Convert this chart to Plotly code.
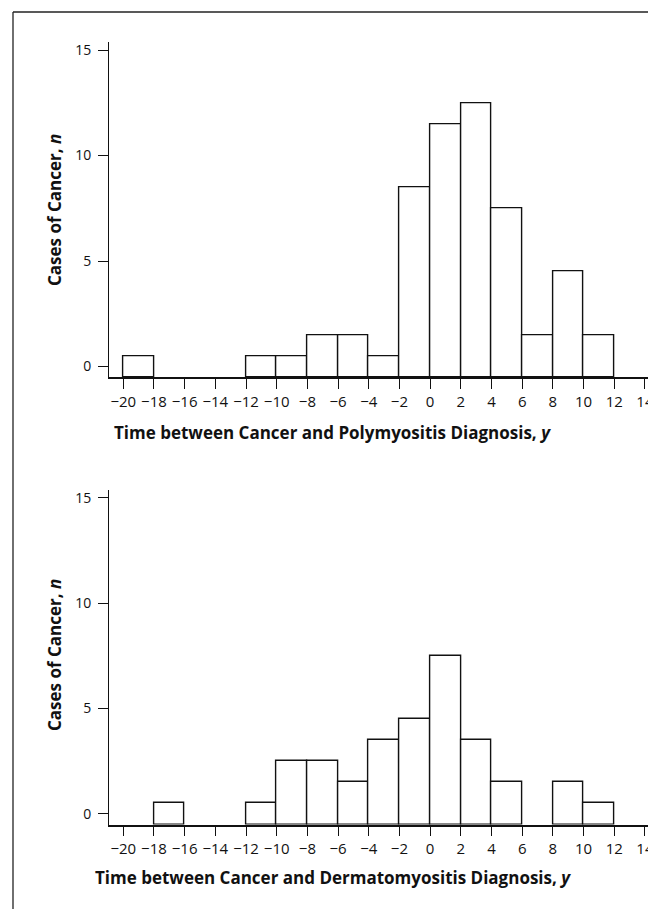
import plotly.graph_objects as go

# Bin left edges (years) and counts per 2-year bin
bin_left = [-20, -18, -16, -14, -12, -10, -8, -6, -4, -2, 0, 2, 4, 6, 8, 10, 12]
poly_counts = [1, 0, 0, 0, 1, 1, 2, 2, 1, 9, 12, 13, 8, 2, 5, 2, 0]
derm_counts = [0, 1, 0, 0, 1, 3, 3, 2, 4, 5, 8, 4, 2, 0, 2, 1, 0]
bin_width = 2

x_tick_vals = list(range(-20, 15, 2))
x_tick_text = [("\u2212" + str(abs(v))) if v < 0 else str(v) for v in x_tick_vals]
y_tick_vals = [0, 5, 10, 15]

x_titles = ["Time between Cancer and Polymyositis Diagnosis, <i>y</i>",
            "Time between Cancer and Dermatomyositis Diagnosis, <i>y</i>"]
y_title = "Cases of Cancer, <i>n</i>"

W, H = 648, 909
FONT = "Open Sans"

fig = go.Figure()

def py(px):
    return 1 - px / H

def pxx(px):
    return px / W

domains = [(py(377), py(42.3)), (py(824.5), py(490))]
series = [poly_counts, derm_counts]

for i, counts in enumerate(series):
    xs = [b + bin_width / 2 for b, c in zip(bin_left, counts) if c > 0]
    ys = [c for c in counts if c > 0]
    axis_suffix = "" if i == 0 else str(i + 1)
    fig.add_trace(go.Bar(
        x=xs, y=ys, base=-0.5, width=bin_width,
        marker=dict(color="white", line=dict(color="#111111", width=1.4)),
        xaxis="x" + axis_suffix, yaxis="y" + axis_suffix,
        showlegend=False, hoverinfo="skip",
    ))

common_x = dict(range=[-20.91, 14.2], tickmode="array", tickvals=x_tick_vals,
                ticktext=x_tick_text, ticks="outside", ticklen=10, tickwidth=1.2,
                tickcolor="#111111", showline=True, linecolor="#111111", linewidth=1.6,
                showgrid=False, zeroline=False, domain=[pxx(109.3), 1],
                ticklabeloverflow="allow", automargin=False,
                tickfont=dict(family=FONT, size=15, color="#111111"), fixedrange=True)
common_y = dict(range=[-0.5, 15.37], tickmode="array", tickvals=y_tick_vals,
                ticks="outside", ticklen=10, tickwidth=1.2, tickcolor="#111111",
                showline=True, linecolor="#111111", linewidth=1.3,
                showgrid=False, zeroline=False, ticklabelstandoff=4, automargin=False,
                tickfont=dict(family=FONT, size=14, color="#111111"), fixedrange=True)

fig.update_layout(
    width=W, height=H,
    margin=dict(l=0, r=0, t=0, b=0, autoexpand=False),
    paper_bgcolor="white", plot_bgcolor="white",
    xaxis=dict(**common_x, anchor="y"),
    yaxis=dict(**common_y, domain=list(domains[0]), anchor="x"),
    xaxis2=dict(**common_x, anchor="y2"),
    yaxis2=dict(**common_y, domain=list(domains[1]), anchor="x2"),
    bargap=0,
)

title_font = dict(family=FONT, size=17, color="#111111")
ann = []
for i, (xt, yc_x, yc_y) in enumerate([(x_titles[0], 432, 210), (x_titles[1], 877, 655)]):
    ann.append(dict(text="<b>" + xt + "</b>", xref="paper", yref="paper",
                    x=pxx(333), y=py(yc_x), xanchor="center", yanchor="middle",
                    showarrow=False, font=title_font))
    ann.append(dict(text="<b>" + y_title + "</b>", xref="paper", yref="paper",
                    x=pxx(54), y=py(yc_y), xanchor="center", yanchor="middle",
                    textangle=-90, showarrow=False, font=title_font))
fig.update_layout(annotations=ann)

# outer frame (cropped on right and bottom)
fig.add_shape(type="line", xref="paper", yref="paper", x0=pxx(13), x1=pxx(13),
              y0=0, y1=py(12), line=dict(color="#222222", width=1.3))
fig.add_shape(type="line", xref="paper", yref="paper", x0=pxx(13), x1=1,
              y0=py(12), y1=py(12), line=dict(color="#222222", width=1.3))

fig.write_html("out.html", config={"displayModeBar": False},
               post_script="document.body.style.margin='0';document.body.style.overflow='hidden';")
